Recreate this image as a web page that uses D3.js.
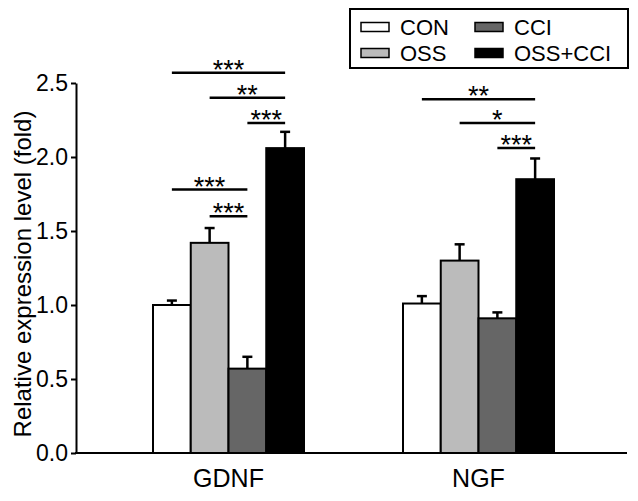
<!DOCTYPE html>
<html>
<head>
<meta charset="utf-8">
<script src="https://cdn.jsdelivr.net/npm/d3@7"></script>
<style>
  body { margin: 0; background: #fff; }
  text { font-family: "Liberation Sans", Arial, sans-serif; fill: #000; }
</style>
</head>
<body>
<div id="chart"></div>
<script>
// data
var genes = ["GDNF", "NGF"];
var groups = ["CON", "OSS", "CCI", "OSS+CCI"];
var colors = ["#ffffff", "#bbbbbb", "#666666", "#000000"];
var gdnfMean = [1.00, 1.42, 0.57, 2.06];
var gdnfErr = [0.03, 0.10, 0.08, 0.11];
var ngfMean = [1.01, 1.30, 0.91, 1.85];
var ngfErr = [0.05, 0.11, 0.04, 0.14];
var yTicks = [0, 0.5, 1.0, 1.5, 2.0, 2.5];
// [from group, to group, label, bracket level (fold)]
var gdnfSig = [[0, 3, "***", 2.57], [1, 3, "**", 2.40], [2, 3, "***", 2.23], [0, 2, "***", 1.78], [1, 2, "***", 1.60]];
var ngfSig = [[0, 3, "**", 2.39], [1, 3, "*", 2.23], [2, 3, "***", 2.06]];

var means = [gdnfMean, ngfMean];
var errs = [gdnfErr, ngfErr];
var sigs = [gdnfSig, ngfSig];

var width = 638, height = 501;
var svg = d3.select("#chart").append("svg")
  .attr("width", width)
  .attr("height", height);

var y = d3.scaleLinear().domain([0, 2.5]).range([453, 83]);
var x0 = d3.scaleBand().domain(genes).range([78, 629]).paddingInner(0.396).paddingOuter(0.3);
var x1 = d3.scaleBand().domain(groups).range([0, x0.bandwidth()]);

// y axis
var yAxis = svg.append("g")
  .attr("transform", "translate(76,0)")
  .call(d3.axisLeft(y).tickValues(yTicks).tickFormat(d3.format(".1f")).tickSize(5).tickSizeOuter(0).tickPadding(3));
yAxis.select(".domain").attr("stroke-width", 2);
yAxis.selectAll(".tick line").attr("stroke-width", 2);
yAxis.selectAll(".tick text").style("font-size", "23px");

svg.append("text")
  .attr("transform", "translate(31,274) rotate(-90)")
  .attr("text-anchor", "middle")
  .style("font-size", "24px")
  .text("Relative expression level (fold)");

// bars
genes.forEach(function(g, gi) {
  var grp = svg.append("g").attr("transform", "translate(" + x0(g) + ",0)");
  var rows = groups.map(function(name, i) { return { name: name, v: means[gi][i], e: errs[gi][i], c: colors[i] }; });

  // error bars first so the bar outline sits on top
  grp.selectAll("line.err")
    .data(rows)
    .enter().append("line")
      .attr("x1", function(d) { return x1(d.name) + x1.bandwidth() / 2; })
      .attr("x2", function(d) { return x1(d.name) + x1.bandwidth() / 2; })
      .attr("y1", function(d) { return y(d.v); })
      .attr("y2", function(d) { return y(d.v + d.e); })
      .attr("stroke", "#000").attr("stroke-width", 2.5);
  grp.selectAll("line.cap")
    .data(rows)
    .enter().append("line")
      .attr("x1", function(d) { return x1(d.name) + x1.bandwidth() / 2 - 5; })
      .attr("x2", function(d) { return x1(d.name) + x1.bandwidth() / 2 + 5; })
      .attr("y1", function(d) { return y(d.v + d.e); })
      .attr("y2", function(d) { return y(d.v + d.e); })
      .attr("stroke", "#000").attr("stroke-width", 2.5);

  grp.selectAll("rect")
    .data(rows)
    .enter().append("rect")
      .attr("x", function(d) { return x1(d.name); })
      .attr("y", function(d) { return y(d.v); })
      .attr("width", x1.bandwidth())
      .attr("height", function(d) { return y(0) - y(d.v); })
      .attr("fill", function(d) { return d.c; })
      .attr("stroke", "#000").attr("stroke-width", 2);

  // significance brackets
  sigs[gi].forEach(function(s) {
    var xa = x1(groups[s[0]]) + x1.bandwidth() / 2;
    var xb = x1(groups[s[1]]) + x1.bandwidth() / 2;
    grp.append("line")
      .attr("x1", xa).attr("x2", xb)
      .attr("y1", y(s[3])).attr("y2", y(s[3]))
      .attr("stroke", "#000").attr("stroke-width", 2.5);
    grp.append("text")
      .attr("x", (xa + xb) / 2)
      .attr("y", y(s[3]) + 6)
      .attr("text-anchor", "middle")
      .style("font-size", "27px")
      .text(s[2]);
  });
});

// x axis line and labels
svg.append("line")
  .attr("x1", 75).attr("x2", 627)
  .attr("y1", y(0)).attr("y2", y(0))
  .attr("stroke", "#000").attr("stroke-width", 2);
svg.selectAll("text.gene")
  .data(genes)
  .enter().append("text")
    .attr("class", "gene")
    .attr("x", function(d) { return x0(d) + x0.bandwidth() / 2; })
    .attr("y", 487)
    .attr("text-anchor", "middle")
    .style("font-size", "25px")
    .text(function(d) { return d; });

// legend
var legend = svg.append("g");
legend.append("rect")
  .attr("x", 350).attr("y", 9).attr("width", 278).attr("height", 59)
  .attr("fill", "none").attr("stroke", "#000").attr("stroke-width", 2);
var legPos = [[361, 27], [361, 53], [475, 27], [475, 53]];
groups.forEach(function(name, i) {
  legend.append("rect")
    .attr("x", legPos[i][0]).attr("y", legPos[i][1] - 4.5)
    .attr("width", 28).attr("height", 9)
    .attr("fill", colors[i]).attr("stroke", "#000").attr("stroke-width", 1.5);
  legend.append("text")
    .attr("x", legPos[i][0] + 39).attr("y", legPos[i][1])
    .attr("dy", "0.36em")
    .style("font-size", "22px")
    .text(name);
});
</script>
</body>
</html>
